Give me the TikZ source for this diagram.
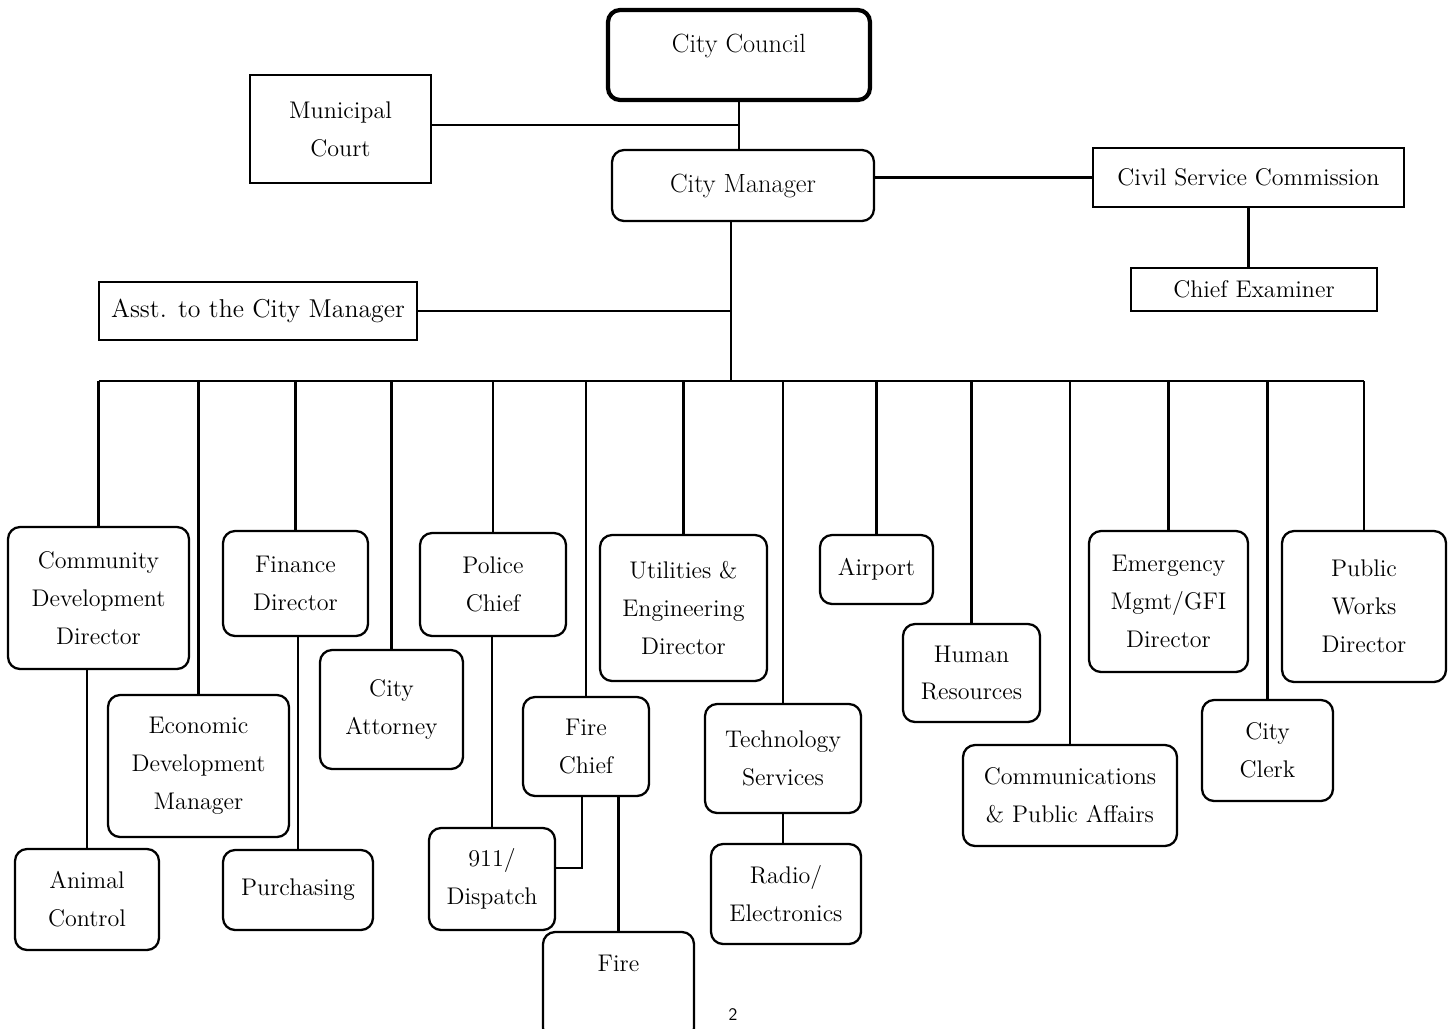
\documentclass[tikz,border=0pt]{standalone}
\usepackage{fontspec}
\usetikzlibrary{positioning,calc}

\begin{document}
\begin{tikzpicture}[x=0.02cm, y=-0.02cm,
    every node/.style={font=\fontsize{13.7}{21.6}\selectfont, align=center, inner sep=0pt},
    orgbox/.style={draw, rounded corners=0.24cm, line width=1.3pt},
    sqbox/.style={draw, line width=1.3pt},
    link/.style={line width=1.4pt}]

    % Page frame
    \useasboundingbox (0,0) rectangle (1453,1028);

    % Top of the chart
    \node[orgbox, line width=2.4pt, minimum width=5.24cm, minimum height=1.8cm,
          font=\fontsize{15}{21.6}\selectfont, text height=0.4cm, text depth=0.52cm]
          (council) at (739,55) {City Council};
    \node[sqbox, minimum width=3.62cm, minimum height=2.16cm] (court) at (340.5,129) {Municipal\\Court};
    \node[orgbox, minimum width=5.24cm, minimum height=1.42cm,
          font=\fontsize{15}{21.6}\selectfont] (manager) at (743,185.5) {City Manager};
    \node[sqbox, minimum width=6.22cm, minimum height=1.18cm] (civil) at (1248.5,177.5) {Civil Service Commission};
    \node[sqbox, minimum width=4.92cm, minimum height=0.86cm] (examiner) at (1254,289.5) {Chief Examiner};
    \node[sqbox, minimum width=6.36cm, minimum height=1.16cm,
          font=\fontsize{14.7}{21.6}\selectfont] (asst) at (258,311) {Asst. to the City Manager};

    % Department heads
    \node[orgbox, minimum width=3.62cm, minimum height=2.84cm] (cdd) at (98.5,598) {Community\\Development\\Director};
    \node[orgbox, minimum width=3.62cm, minimum height=2.84cm] (edm) at (198.5,766) {Economic\\Development\\Manager};
    \node[orgbox, minimum width=2.9cm, minimum height=2.1cm] (finance) at (295.5,583.5) {Finance\\Director};
    \node[orgbox, minimum width=2.86cm, minimum height=2.38cm] (attorney) at (391.5,709.5) {City\\Attorney};
    \node[orgbox, minimum width=2.92cm, minimum height=2.06cm] (police) at (493,584.5) {Police\\Chief};
    \node[orgbox, minimum width=2.52cm, minimum height=1.98cm] (firechief) at (586,746.5) {Fire\\Chief};
    \node[orgbox, minimum width=3.34cm, minimum height=2.92cm] (util) at (683.5,608) {Utilities \&\\Engineering\\Director};
    \node[orgbox, minimum width=3.12cm, minimum height=2.18cm] (tech) at (783,758.5) {Technology\\Services};
    \node[orgbox, minimum width=2.26cm, minimum height=1.38cm] (airport) at (876.5,569.5) {Airport};
    \node[orgbox, minimum width=2.74cm, minimum height=1.96cm] (hr) at (971.5,673) {Human\\Resources};
    \node[orgbox, minimum width=4.28cm, minimum height=2.02cm] (comm) at (1070,795.5) {Communications\\\& Public Affairs};
    \node[orgbox, minimum width=3.18cm, minimum height=2.82cm] (emerg) at (1168.5,601.5) {Emergency\\Mgmt/GFI\\Director};
    \node[orgbox, minimum width=2.62cm, minimum height=2.02cm] (clerk) at (1267.5,750.5) {City\\Clerk};
    \node[orgbox, minimum width=3.28cm, minimum height=3.02cm] (pw) at (1364,606.5) {Public\\Works\\Director};

    % Divisions below the heads
    \node[orgbox, minimum width=2.88cm, minimum height=2.02cm] (animal) at (87,899.5) {Animal\\Control};
    \node[orgbox, minimum width=3.0cm, minimum height=1.6cm] (purch) at (298,890) {Purchasing};
    \node[orgbox, minimum width=2.52cm, minimum height=2.04cm] (dispatch) at (492,879) {911/\\Dispatch};
    \node[orgbox, minimum width=3.02cm, minimum height=2.16cm, text height=0.35cm, text depth=0.93cm]
          (fire) at (618.5,986) {Fire};
    \node[orgbox, minimum width=3.0cm, minimum height=2.0cm] (radio) at (786,894) {Radio/\\Electronics};

    \node[font=\sffamily\fontsize{10}{12}\selectfont] (pagenum) at (733,1015) {2};

    % Connectors at the top
    \coordinate (bus) at (731,381);
    \coordinate (courtlink) at ($(court.east)+(0,-4)$);
    \draw[link] (council.south) -- (council.south |- manager.north);
    \draw[link] (courtlink) -- (courtlink -| council.south);
    \draw[link] (civil.west) -- (civil.west -| manager.east);
    \draw[link] (civil.south) -- (civil.south |- examiner.north);
    \draw[link] (manager.south -| bus) -- (bus);
    \draw[link] (asst.east) -- (asst.east -| bus);

    % Bus line and drops to each head
    \draw[link] (cdd.north |- bus) -- (pw.north |- bus);
    \foreach \dept in {cdd,edm,finance,attorney,police,firechief,util,tech,airport,hr,comm,emerg,clerk,pw}
        \draw[link] (\dept.north |- bus) -- (\dept.north);

    % Lower links
    \draw[link] (animal.north) -- (animal.north |- cdd.south);
    \draw[link] (purch.north) -- (purch.north |- finance.south);
    \draw[link] (dispatch.north) -- (dispatch.north |- police.south);
    \draw[link] (fire.north) -- (fire.north |- firechief.south);
    \draw[link] ($(firechief.south)+(-4,0)$) |- ($(dispatch.east)+(0,-11)$);
    \draw[link] (tech.south) -- (tech.south |- radio.north);

\end{tikzpicture}
\end{document}
